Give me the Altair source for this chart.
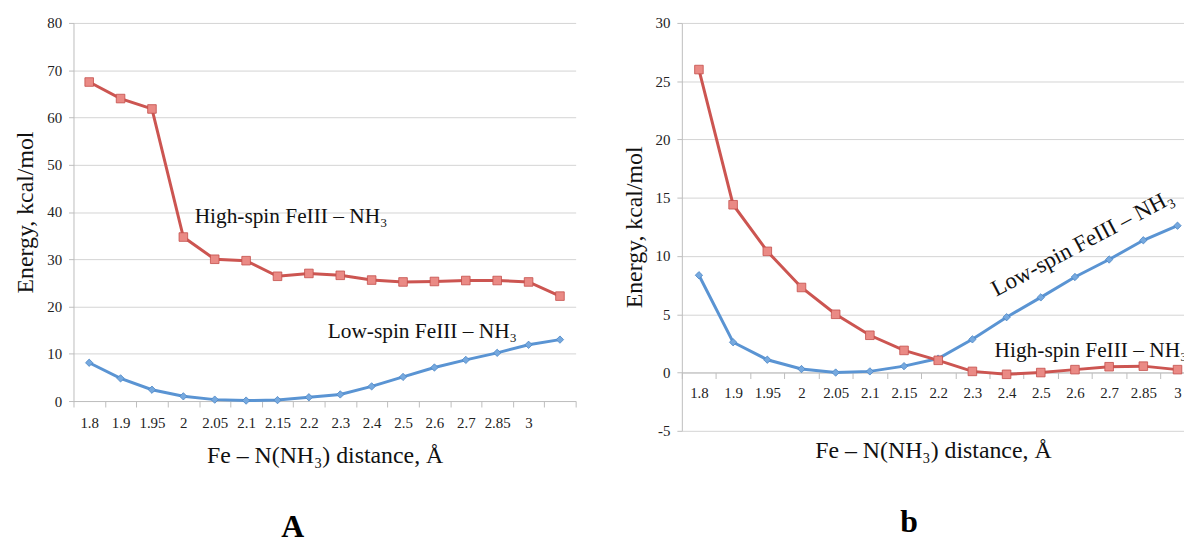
import json
import altair as alt
import pandas as pd

# ---------------- data ----------------
cats_A = ["1.8", "1.9", "1.95", "2", "2.05", "2.1", "2.15", "2.2", "2.3", "2.4",
          "2.5", "2.6", "2.7", "2.85", "3", ""]
high_A = [67.5, 64.0, 61.8, 34.7, 30.0, 29.7, 26.4, 27.0, 26.6, 25.6,
          25.2, 25.3, 25.5, 25.5, 25.2, 22.2]
low_A = [8.1, 4.8, 2.4, 1.0, 0.3, 0.1, 0.2, 0.8, 1.4, 3.1,
         5.1, 7.1, 8.7, 10.2, 11.9, 13.0]

cats_B = ["1.8", "1.9", "1.95", "2", "2.05", "2.1", "2.15", "2.2", "2.3", "2.4",
          "2.5", "2.6", "2.7", "2.85", "3"]
high_B = [26.0, 14.4, 10.4, 7.3, 5.0, 3.2, 1.9, 1.05, 0.1, -0.15,
          0.0, 0.25, 0.5, 0.55, 0.25]
low_B = [8.35, 2.6, 1.1, 0.3, 0.0, 0.1, 0.55, 1.2, 2.85, 4.75,
         6.45, 8.2, 9.7, 11.35, 12.6]

label_high = "High-spin FeIII – NH₃"
label_low = "Low-spin FeIII – NH₃"
x_title = "Fe – N(NH₃) distance, Å"
y_title = "Energy, kcal/mol"

# annotation anchors (data coords: category index, energy), angles, sizes
ann_A = pd.DataFrame({"x": [3.36, 7.6], "y": [37.6, 13.4],
                      "t": [label_high, label_low], "a": [0, 0],
                      "s": [21.5, 21.5]})
ann_B = pd.DataFrame({"x": [8.7, 8.65], "y": [6.5, 1.35],
                      "t": [label_low, label_high], "a": [332, 0],
                      "s": [23, 21.5]})

FONT = "Liberation Serif"
RED_LINE, RED_FILL, RED_STROKE = "#CC5551", "#EA8A85", "#C44E4A"
BLUE_LINE, BLUE_FILL, BLUE_STROKE = "#5A94D3", "#76A9DF", "#4C86C5"
GRID = "#D4D4D4"
AXIS = "#BDBDBD"


def panel(cats, high, low, ydom, ystep, width, height, xmax, ann,
          xoffset, lab_pad, title_pad, letter, letter_dx, letter_offset):
    n = len(cats)
    df_h = pd.DataFrame({"i": list(range(n)), "v": high})
    df_l = pd.DataFrame({"i": list(range(n)), "v": low})
    xscale = alt.Scale(domain=[-0.5, xmax], nice=False, zero=False)
    yscale = alt.Scale(domain=ydom, nice=False, zero=False)
    yvals = list(range(ydom[0], ydom[1] + 1, ystep))

    x_lab_axis = alt.Axis(
        orient="bottom", values=list(range(n)),
        labelExpr=json.dumps(cats) + "[datum.value]",
        ticks=False, grid=False, domain=True, domainColor=AXIS,
        labelAngle=0, labelFont=FONT, labelFontSize=15, labelColor="#222",
        labelPadding=lab_pad, offset=xoffset,
        title=x_title, titleFont=FONT, titleFontSize=24,
        titleFontWeight="normal", titleColor="#111", titlePadding=title_pad)
    bounds = [k - 0.5 for k in range(n + 1) if k - 0.5 <= xmax]
    x_tick_axis = alt.Axis(
        orient="bottom", values=bounds, labels=False, grid=False,
        domain=False, ticks=True, tickSize=6, tickColor=AXIS,
        offset=xoffset, title=None)
    y_axis = alt.Axis(
        values=yvals, grid=True, gridColor=GRID, domainColor=AXIS,
        tickColor=AXIS, tickSize=5, labelFont=FONT, labelFontSize=15,
        labelColor="#222", labelPadding=7,
        labelExpr="'' + datum.value",
        title=y_title, titleFont=FONT, titleFontSize=24,
        titleFontWeight="normal", titleColor="#111", titlePadding=9)

    x_enc = alt.X("i:Q", scale=xscale, axis=x_lab_axis)
    y_enc = alt.Y("v:Q", scale=yscale, axis=y_axis)

    base_l = alt.Chart(df_l).encode(x=x_enc, y=y_enc)
    base_h = alt.Chart(df_h).encode(x=x_enc, y=y_enc)
    low_line = base_l.mark_line(color=BLUE_LINE, strokeWidth=3)
    low_pts = base_l.mark_point(shape="diamond", filled=True, fill=BLUE_FILL,
                                stroke=BLUE_STROKE, strokeWidth=0.8,
                                size=55, opacity=1)
    high_line = base_h.mark_line(color=RED_LINE, strokeWidth=3)
    high_pts = base_h.mark_point(shape="square", filled=True, fill=RED_FILL,
                                 stroke=RED_STROKE, strokeWidth=0.8,
                                 size=75, opacity=1)
    texts = alt.Chart(ann).mark_text(
        align="left", baseline="alphabetic", font=FONT,
        color="#111", clip=True
    ).encode(x=alt.X("x:Q", scale=xscale, axis=x_lab_axis),
             y=alt.Y("y:Q", scale=yscale, axis=y_axis),
             text="t:N", angle=alt.Angle("a:Q", scale=None),
             size=alt.Size("s:Q", scale=None))
    ticks_layer = alt.Chart(df_h).mark_point(opacity=0).encode(
        x=alt.X("i:Q", scale=xscale, axis=x_tick_axis),
        y=alt.Y("v:Q", scale=yscale, axis=y_axis))

    inner = alt.layer(low_line, low_pts, high_line, high_pts, texts)
    layered = alt.layer(inner, ticks_layer).resolve_axis(x="independent")
    return layered.properties(
        width=width, height=height,
        title=alt.TitleParams(letter, orient="bottom", anchor="middle",
                              font=FONT, fontSize=32, fontWeight="bold",
                              color="#000", dx=letter_dx,
                              offset=letter_offset))


pA = panel(cats_A, high_A, low_A, [0, 80], 10, 506, 381, 15.5, ann_A,
           0, 15, 13, "A", -32, 45)
pB = panel(cats_B, high_B, low_B, [-5, 30], 5, 506, 411, 14.19, ann_B,
           -58.7, 13, 39, "b", -24, 45)

chart = alt.hconcat(pA, pB, spacing=46).properties(
    padding={"left": 6, "top": 6, "right": 0, "bottom": 0}
).configure_view(stroke=None)

chart.save("out.html", embed_options={"renderer": "svg", "actions": False})
